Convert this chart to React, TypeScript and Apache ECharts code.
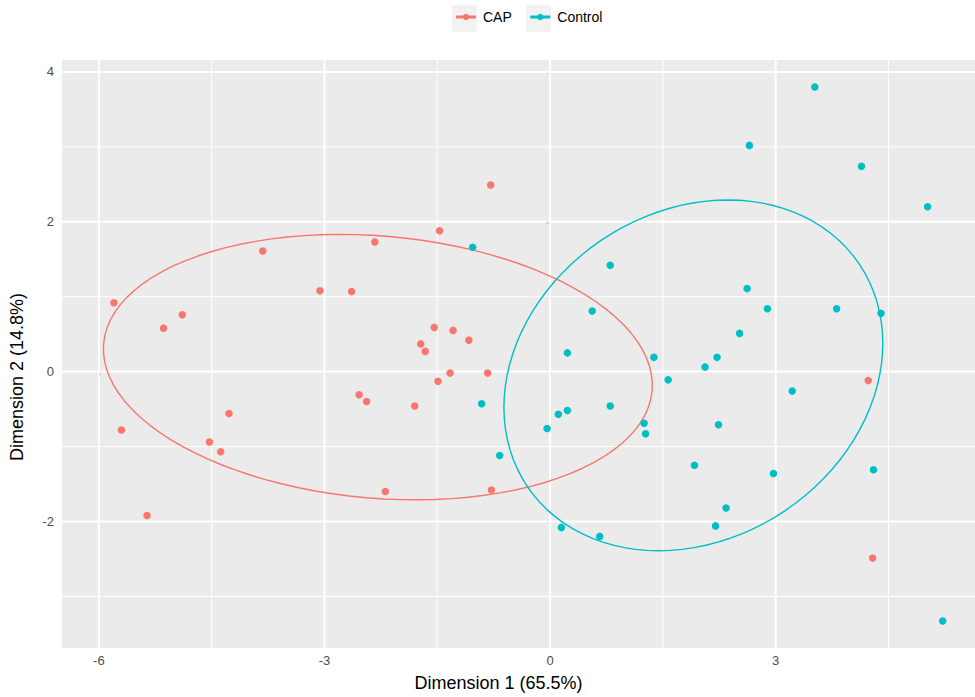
import React, { useEffect, useRef } from "react";
import * as echarts from "echarts";

// Groups and their colours
const groups = ["CAP", "Control"];
const groupColors = ["#F8766D", "#00BFC4"];

// Sample scores on the first two dimensions
const capX = [-5.8, -5.14, -4.89, -3.82, -3.06, -2.64, -5.7, -5.36, -4.53, -4.38, -4.27, -2.54, -2.44, -2.33, -1.47, -0.79, -1.54, -1.29, -1.08, -1.72, -1.66, -1.8, -1.49, -1.33, -0.83, -2.19, -0.78, 4.23, 4.29];
const capY = [0.92, 0.58, 0.76, 1.61, 1.08, 1.07, -0.78, -1.92, -0.94, -1.07, -0.56, -0.31, -0.4, 1.73, 1.88, 2.49, 0.59, 0.55, 0.42, 0.37, 0.27, -0.46, -0.13, -0.02, -0.02, -1.6, -1.58, -0.12, -2.49];
const controlX = [-1.03, 0.8, 0.56, 0.23, 1.38, 1.57, -0.91, 0.11, 0.23, 0.8, -0.04, 1.25, 1.27, -0.67, 0.15, 0.66, 3.52, 2.65, 4.14, 5.02, 2.62, 2.89, 3.81, 4.4, 2.52, 2.22, 2.06, 3.22, 2.24, 1.92, 2.97, 4.3, 2.34, 2.2, 5.22];
const controlY = [1.66, 1.42, 0.81, 0.25, 0.19, -0.11, -0.43, -0.57, -0.52, -0.46, -0.76, -0.69, -0.83, -1.12, -2.08, -2.2, 3.8, 3.02, 2.74, 2.2, 1.11, 0.84, 0.84, 0.78, 0.51, 0.19, 0.06, -0.26, -0.71, -1.25, -1.36, -1.31, -1.82, -2.06, -3.33];

// Confidence ellipses: [centre x, centre y, semi-major, semi-minor, rotation (rad)]
const capEllipse = [-2.29, 0.06, 3.66, 1.75, -0.086];
const controlEllipse = [1.905, -0.05, 2.66, 2.18, 0.595];

// Axis ranges, ticks and grid lines
const xRange = [-6.49, 5.65];
const yRange = [-3.69, 4.16];
const xTicks = [-6, -3, 0, 3];
const yTicks = [-2, 0, 2, 4];
const xMinor = [-4.5, -1.5, 1.5, 4.5];
const yMinor = [-3, -1, 1, 3];

const FONT = "'Liberation Sans', Arial, sans-serif";

function ellipseOutline(p: number[], steps = 100): number[][] {
  const [cx, cy, a, b, t] = p;
  const pts: number[][] = [];
  for (let i = 0; i <= steps; i++) {
    const s = (2 * Math.PI * i) / steps;
    const u = a * Math.cos(s);
    const v = b * Math.sin(s);
    pts.push([cx + u * Math.cos(t) - v * Math.sin(t), cy + u * Math.sin(t) + v * Math.cos(t)]);
  }
  return pts;
}

const zip = (xs: number[], ys: number[]) => xs.map((x, i) => [x, ys[i]]);

export default function App() {
  const ref = useRef<HTMLDivElement>(null);

  useEffect(() => {
    if (!ref.current) return;
    const chart = echarts.init(ref.current, undefined, { renderer: "svg" });

    // panel grid lines: [value, 0 = vertical / 1 = horizontal, 0 = minor / 1 = major]
    const gridData: number[][] = [
      ...xMinor.map((v) => [v, 0, 0]),
      ...yMinor.map((v) => [v, 1, 0]),
      ...xTicks.map((v) => [v, 0, 1]),
      ...yTicks.map((v) => [v, 1, 1]),
    ];

    const ellipses = [capEllipse, controlEllipse];
    const points = [zip(capX, capY), zip(controlX, controlY)];

    chart.setOption({
      animation: false,
      textStyle: { fontFamily: FONT },
      grid: {
        left: 62,
        right: 0,
        top: 60,
        bottom: 47,
        show: true,
        backgroundColor: "#EBEBEB",
        borderWidth: 0,
      },
      legend: {
        data: groups,
        left: 454.5,
        top: 10,
        padding: 0,
        itemWidth: 20,
        itemHeight: 8,
        itemGap: 17,
        lineStyle: { width: 3 },
        textStyle: { fontSize: 14, color: "#000", fontFamily: FONT, padding: [0, 0, 0, 2] },
        selectedMode: false,
      },
      graphic: [
        { type: "rect", z: -10, shape: { x: 452, y: 5, width: 25, height: 27 }, style: { fill: "#F2F2F2" } },
        { type: "rect", z: -10, shape: { x: 526, y: 5, width: 25, height: 27 }, style: { fill: "#F2F2F2" } },
      ],
      xAxis: {
        type: "value",
        min: xRange[0],
        max: xRange[1],
        name: "Dimension 1 (65.5%)",
        nameLocation: "middle",
        nameGap: 26,
        nameTextStyle: { fontSize: 18, color: "#000", fontFamily: FONT, padding: [0, 40, 0, 0] },
        axisLine: { show: false },
        axisTick: { show: true, length: 4, lineStyle: { color: "#333", width: 1.2 }, customValues: xTicks },
        axisLabel: { fontSize: 13, color: "#4D4D4D", margin: 6, customValues: xTicks, fontFamily: FONT },
        splitLine: { show: false },
      },
      yAxis: {
        type: "value",
        min: yRange[0],
        max: yRange[1],
        name: "Dimension 2 (14.8%)",
        nameLocation: "middle",
        nameGap: 36,
        nameTextStyle: { fontSize: 18, color: "#000", fontFamily: FONT, padding: [0, 46, 0, 0] },
        axisLine: { show: false },
        axisTick: { show: true, length: 4, lineStyle: { color: "#333", width: 1.2 }, customValues: yTicks },
        axisLabel: { fontSize: 13, color: "#4D4D4D", margin: 8, customValues: yTicks, fontFamily: FONT },
        splitLine: { show: false },
      },
      series: [
        ...groups.map((g, i) => ({
          name: g,
          type: "line",
          data: ellipseOutline(ellipses[i]),
          showSymbol: false,
          symbol: "circle",
          smooth: false,
          z: 3,
          silent: true,
          lineStyle: { color: groupColors[i], width: 1.4 },
          itemStyle: { color: groupColors[i] },
        })),
        ...groups.map((g, i) => ({
          name: g,
          type: "scatter",
          data: points[i],
          symbolSize: 7.5,
          z: 4,
          itemStyle: { color: groupColors[i], opacity: 1 },
        })),
        {
          type: "custom",
          name: "panel-grid",
          z: 1,
          silent: true,
          clip: true,
          data: gridData,
          renderItem: (_params: any, api: any) => {
            const v = api.value(0);
            const horizontal = api.value(1) === 1;
            const major = api.value(2) === 1;
            const p1 = horizontal ? api.coord([xRange[0], v]) : api.coord([v, yRange[0]]);
            const p2 = horizontal ? api.coord([xRange[1], v]) : api.coord([v, yRange[1]]);
            return {
              type: "line",
              shape: { x1: p1[0], y1: p1[1], x2: p2[0], y2: p2[1] },
              style: { stroke: "#FFFFFF", fill: "none", lineWidth: major ? 2 : 1 },
            };
          },
        },
      ],
    });

    return () => chart.dispose();
  }, []);

  return <div ref={ref} style={{ width: 975, height: 697, position: "absolute", left: 0, top: 0 }} />;
}
